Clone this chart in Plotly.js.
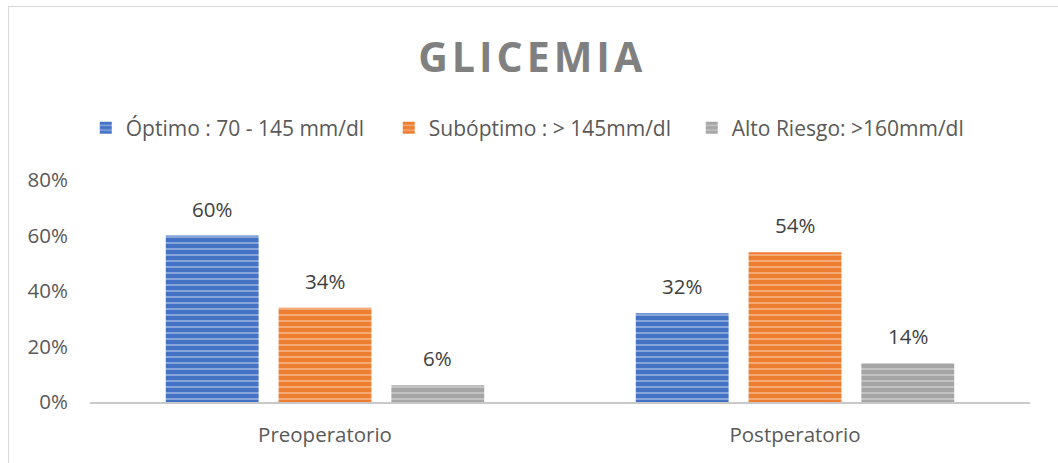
<!DOCTYPE html>
<html>
<head>
<meta charset="utf-8">
<script src="https://cdn.plot.ly/plotly-3.0.1.min.js"></script>
<style>
  html, body { margin: 0; padding: 0; background: #ffffff; }
  #frame { position: absolute; left: 8px; top: 6px; width: 1100px; height: 500px;
           border-left: 1.5px solid #d9d9d9; border-top: 1.5px solid #d9d9d9; }
  #chart { position: absolute; left: 0; top: 0; width: 1058px; height: 463px; }
  .gtitle { letter-spacing: 4px; }
</style>
</head>
<body>
<div id="frame"></div>
<div id="chart"></div>
<script>
const categories = ["Preoperatorio", "Postperatorio"];
const seriesNames = ["Óptimo : 70 - 145 mm/dl", "Subóptimo : > 145mm/dl", "Alto Riesgo: >160mm/dl"];
const optimo = [0.60, 0.32];
const suboptimo = [0.34, 0.54];
const altoRiesgo = [0.06, 0.14];
const seriesValues = [optimo, suboptimo, altoRiesgo];
const colors = ["#4472C4", "#ED7D31", "#A5A5A5"];
const stripeColors = ["rgba(235,240,250,0.9)", "rgba(252,235,222,0.9)", "rgba(240,240,240,0.9)"];

const font = "'Open Sans', 'DejaVu Sans', sans-serif";
const textColor = "#595959";
const bargap = 0.28;
const bargroupgap = 0.177;

const traces = seriesValues.map((vals, i) => ({
  type: "bar",
  name: seriesNames[i],
  x: categories,
  y: vals,
  marker: {
    color: colors[i],
    line: { width: 0 },
    pattern: { shape: "-", fgcolor: stripeColors[i], bgcolor: colors[i], size: 6, solidity: 0.3, fillmode: "overlay" }
  },
  hoverinfo: "skip"
}));

// Data labels, positioned from the data through the category axis
const nSeries = seriesValues.length;
const slot = (1 - bargap) / nSeries;
const annotations = [];
seriesValues.forEach((vals, i) => {
  vals.forEach((v, j) => {
    annotations.push({
      x: j + (i - (nSeries - 1) / 2) * slot,
      y: v,
      xref: "x", yref: "y",
      text: Math.round(v * 100) + "%",
      showarrow: false,
      yanchor: "bottom",
      yshift: 11,
      font: { family: font, size: 20.5, color: "#404040" }
    });
  });
});

const layout = {
  width: 1058,
  height: 463,
  margin: { l: 90, r: 28, t: 180, b: 61 },
  paper_bgcolor: "rgba(0,0,0,0)",
  plot_bgcolor: "rgba(0,0,0,0)",
  font: { family: font, size: 20.5, color: textColor },
  title: {
    text: "<b>GLICEMIA</b>",
    font: { family: font, size: 41, color: "#808080" },
    x: 0.503, xanchor: "center",
    yref: "container", y: 1 - 58 / 463, yanchor: "middle"
  },
  barmode: "group",
  bargap: bargap,
  bargroupgap: bargroupgap,
  showlegend: true,
  legend: {
    orientation: "h",
    x: 0.479, xanchor: "center",
    y: 1.234, yanchor: "middle",
    font: { family: font, size: 21, color: textColor },
    itemwidth: 30,
    entrywidth: 258,
    entrywidthmode: "pixels",
    traceorder: "normal",
    bgcolor: "rgba(0,0,0,0)"
  },
  xaxis: {
    type: "category",
    showline: true,
    linecolor: "#c8c8c8",
    linewidth: 2,
    showgrid: false,
    ticks: "",
    ticklabelstandoff: 13,
    tickfont: { family: font, size: 20.5, color: textColor },
    zeroline: false,
    fixedrange: true
  },
  yaxis: {
    range: [0, 0.8],
    dtick: 0.2,
    tickformat: ".0%",
    showgrid: false,
    showline: false,
    zeroline: false,
    ticks: "",
    ticklabelstandoff: 21,
    tickfont: { family: font, size: 20.5, color: textColor },
    fixedrange: true
  },
  annotations: annotations
};

Plotly.newPlot("chart", traces, layout, { displayModeBar: false, staticPlot: true });
</script>
</body>
</html>
